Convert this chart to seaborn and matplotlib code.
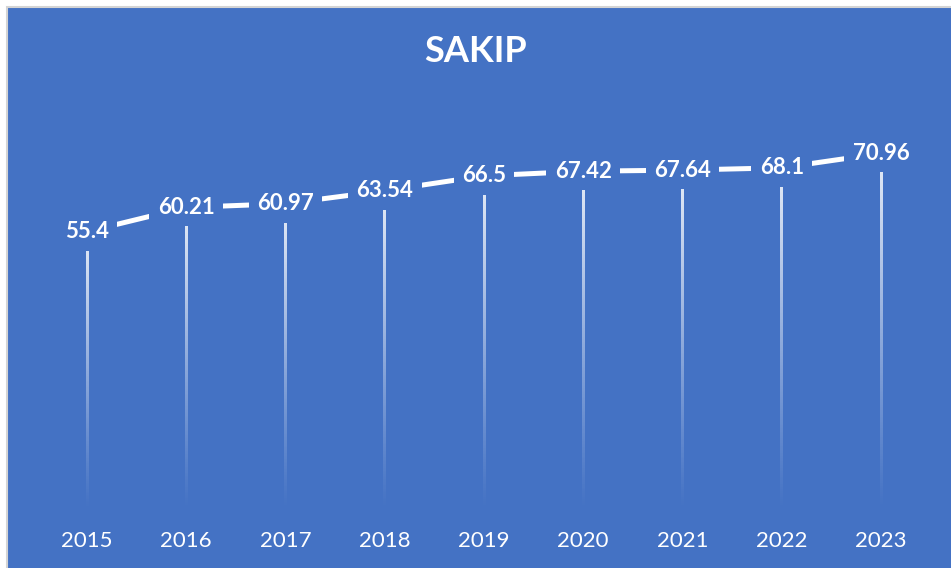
import numpy as np
import pandas as pd
import matplotlib
matplotlib.use("Agg")
import matplotlib.pyplot as plt
import seaborn as sns
from matplotlib.patches import Rectangle

# Yearly SAKIP scores
years = ["2015", "2016", "2017", "2018", "2019", "2020", "2021", "2022", "2023"]
scores = [55.4, 60.21, 60.97, 63.54, 66.5, 67.42, 67.64, 68.1, 70.96]
chart_title = "SAKIP"

BLUE = "#4472C4"

sns.set_style("white")
plt.rcParams["font.family"] = ["Lato", "DejaVu Sans"]

W, H = 951, 568
fig = plt.figure(figsize=(W / 100, H / 100), dpi=100)
fig.patch.set_facecolor("white")
# blue chart area with a thin grey frame on the top/left edges
fig.patches.append(Rectangle((7 / W, -0.1), 1.2, (H - 7) / H + 0.1,
                             transform=fig.transFigure, facecolor=BLUE,
                             edgecolor="#d4d4d4", linewidth=1.5, zorder=-5))

ax = fig.add_axes([37.4 / W, (H - 510) / H, 893.2 / W, 402 / H])
ax.set_zorder(2)
ax.set_facecolor("none")

df = pd.DataFrame({"pos": np.arange(len(years)), "year": years, "score": scores})

# fading drop lines from each point down to the axis (white -> transparent)
half_w = 1.3 / 99.25
for i, v in enumerate(scores):
    ramp = np.linspace(1, 0, 256) ** 1.1 * 0.88
    grad = np.ones((256, 1, 4))
    grad[:, 0, 3] = ramp
    ax.imshow(grad, extent=[i - half_w, i + half_w, 0, v], aspect="auto",
              origin="upper", interpolation="bilinear", zorder=2)

sns.lineplot(data=df, x="pos", y="score", ax=ax, color="white",
             linewidth=3.6, zorder=3)

for i, v in enumerate(scores):
    ax.text(i, v, f"{v:g}", ha="center", va="center", fontsize=16,
            fontweight="bold", color="white", zorder=4,
            bbox=dict(boxstyle="square,pad=0.38", fc=BLUE, ec="none"))

ax.set_xlim(-0.5, len(years) - 0.5)
ax.set_ylim(0, 80)
ax.set_xticks(df["pos"])
ax.set_xticklabels(years, fontsize=16, color="white")
ax.set_yticks([])
ax.set_xlabel("")
ax.set_ylabel("")
ax.tick_params(axis="x", length=0, pad=15)
sns.despine(ax=ax, left=True, bottom=True)

fig.text(0.5, (H - 52) / H, chart_title, ha="center", va="center",
         fontsize=26, fontweight="bold", color="white")

fig.savefig("out.png", dpi=100, facecolor=fig.get_facecolor())
